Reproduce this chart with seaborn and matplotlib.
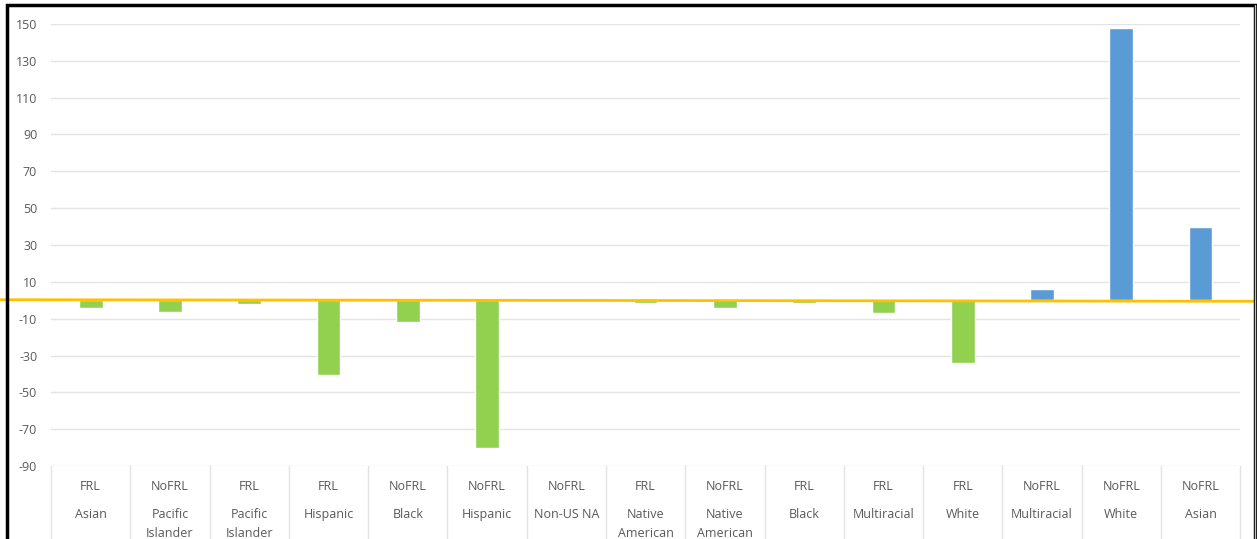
import pandas as pd
import matplotlib.pyplot as plt
import seaborn as sns
from matplotlib.patches import Rectangle
from matplotlib.lines import Line2D

# chart values
frl_status = ['FRL', 'NoFRL', 'FRL', 'FRL', 'NoFRL', 'NoFRL', 'NoFRL', 'FRL',
              'NoFRL', 'FRL', 'FRL', 'FRL', 'NoFRL', 'NoFRL', 'NoFRL']
groups = ['Asian', 'Pacific\nIslander', 'Pacific\nIslander', 'Hispanic', 'Black',
          'Hispanic', 'Non-US NA', 'Native\nAmerican', 'Native\nAmerican', 'Black',
          'Multiracial', 'White', 'Multiracial', 'White', 'Asian']
values = [-4, -6.5, -2, -40.5, -12, -80, 0, -1.5, -4, -1.5, -7, -34, 6, 148, 40]
y_ticks = [-90, -70, -50, -30, -10, 10, 30, 50, 70, 90, 110, 130, 150]

green = '#92D050'
blue = '#5B9BD5'
grey_text = '#595959'
grid_col = '#E3E3E3'

df = pd.DataFrame({'key': [f'{s}|{g}|{i}' for i, (s, g) in enumerate(zip(frl_status, groups))],
                   'value': values})
colors = [blue if v > 0 else green for v in values]

sns.set_style('white')
plt.rcParams['font.family'] = ['Open Sans', 'DejaVu Sans']

fig = plt.figure(figsize=(12.57, 5.39), dpi=100)
ax = fig.add_axes([0.0406, 0.1354, 0.946, 0.8201])

sns.barplot(data=df, x='key', y='value', hue='key', palette=colors,
            legend=False, width=0.3, saturation=1, ax=ax)

ax.set_ylim(-90, 150)
ax.set_xlim(-0.5, len(values) - 0.5)
ax.set_yticks(y_ticks)
ax.set_yticklabels([str(t) for t in y_ticks], color=grey_text, fontsize=9)
ax.tick_params(axis='y', length=0, pad=10)
ax.set_xticks([])
ax.set_xlabel('')
ax.set_ylabel('')
for sp in ax.spines.values():
    sp.set_visible(False)
for t in y_ticks:
    ax.axhline(t, color=grid_col, lw=1, zorder=0)

# category table under the plot
trans = ax.get_xaxis_transform()
for i in range(len(values) + 1):
    ax.add_line(Line2D([i - 0.5, i - 0.5], [0, -0.2], transform=trans,
                       color=grid_col, lw=1, clip_on=False))
for i, (s, g) in enumerate(zip(frl_status, groups)):
    ax.annotate(s, xy=(i, 0), xycoords=trans, xytext=(0, -14.5), textcoords='offset points',
                ha='center', va='center', fontsize=9, color=grey_text, annotation_clip=False)
    ax.annotate(g, xy=(i, 0), xycoords=trans, xytext=(0, -30.5), textcoords='offset points',
                ha='center', va='top', fontsize=9, color=grey_text, linespacing=1.55,
                annotation_clip=False)

# yellow zero line across the whole figure
ax.add_line(Line2D([-1.2, 15.5], [0.3, -0.6], color='#FFC000', lw=2, clip_on=False, zorder=3))

# frame around the picture
fig.add_artist(Rectangle((0.0052, -0.05), 0.9935, 1.04, transform=fig.transFigure,
                         fill=False, edgecolor='black', lw=2.5))
fig.add_artist(Line2D([0.9988, 0.9988], [0, 0.99], transform=fig.transFigure,
                      color='#BFBFBF', lw=1))

fig.savefig('out.png', dpi=100)
